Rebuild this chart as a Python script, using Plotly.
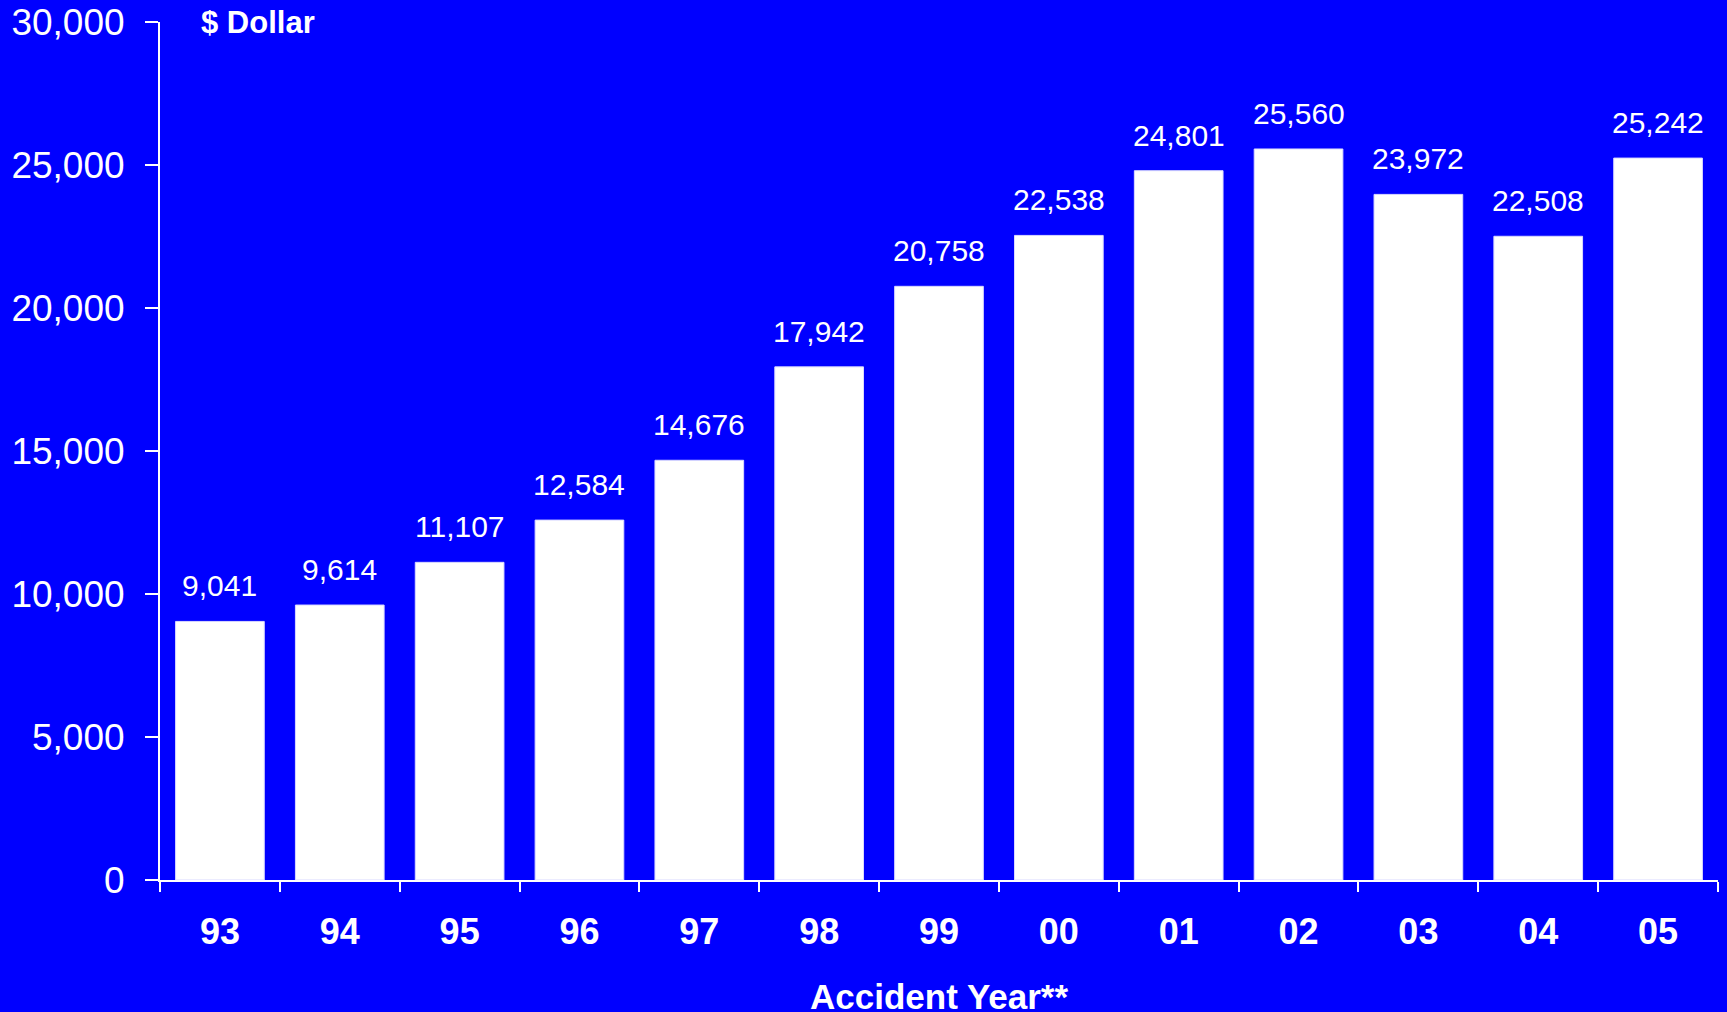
import plotly.graph_objects as go

years = ["93", "94", "95", "96", "97", "98", "99", "00", "01", "02", "03", "04", "05"]
values = [9041, 9614, 11107, 12584, 14676, 17942, 20758, 22538, 24801, 25560, 23972, 22508, 25242]
y_ticks = [0, 5000, 10000, 15000, 20000, 25000, 30000]

BG = "#0000FF"
FONT = "Liberation Sans, Arial, sans-serif"

fig = go.Figure()
fig.add_trace(go.Bar(
    x=years, y=values,
    marker=dict(color="white", line=dict(color="#d8d8ff", width=1)),
    width=0.74,
    hoverinfo="x+y",
))

for i, v in enumerate(values):
    fig.add_annotation(
        x=i, y=v, xref="x", yref="y",
        text=f"{v:,}", showarrow=False,
        yanchor="bottom", yshift=17,
        font=dict(family=FONT, size=30, color="white"),
    )

fig.add_annotation(
    x=0.025, y=1.0, xref="paper", yref="paper",
    xanchor="left", yanchor="middle",
    text="<b>$ Dollar</b>", showarrow=False,
    font=dict(family=FONT, size=31, color="white"),
)
fig.add_annotation(
    x=0.5, y=-0.1354, xref="paper", yref="paper",
    xanchor="center", yanchor="middle",
    text="<b>Accident Year**</b>", showarrow=False,
    font=dict(family=FONT, size=35, color="white"),
)

fig.update_layout(
    width=1727, height=1012,
    paper_bgcolor=BG, plot_bgcolor=BG,
    margin=dict(l=160, r=9, t=22, b=132, autoexpand=False),
    showlegend=False,
    font=dict(family=FONT, color="white"),
    bargap=0.26,
)
fig.update_xaxes(
    type="category", categoryorder="array", categoryarray=years,
    range=[-0.5, len(years) - 0.5],
    showline=True, linecolor="white", linewidth=2,
    ticks="outside", tickson="boundaries", ticklen=10, tickwidth=2, tickcolor="white",
    tickfont=dict(family=FONT, size=36, color="white", weight="bold"),
    tickangle=0,
    showgrid=False, zeroline=False,
    ticklabelstandoff=19,
    automargin=False,
)
fig.update_yaxes(
    range=[0, 30000],
    tickvals=y_ticks, tickformat=",",
    showline=True, linecolor="white", linewidth=2,
    ticks="outside", ticklen=13, tickwidth=2, tickcolor="white",
    tickfont=dict(family=FONT, size=37, color="white"),
    showgrid=False, zeroline=False,
    ticklabelstandoff=13,
    automargin=False,
)

fig.write_html("out.html")
